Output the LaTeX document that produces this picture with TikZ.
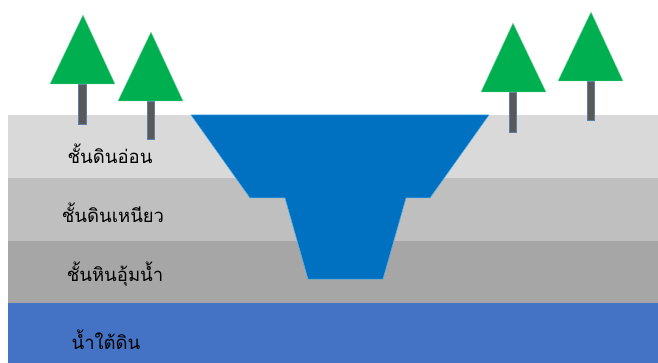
\documentclass[tikz,border=0pt]{standalone}
\usepackage{fontspec}
\newfontfamily\thaifont[Script=Thai]{Loma}
\definecolor{soilsoft}{HTML}{D9D9D9}
\definecolor{soilclay}{HTML}{BFBFBF}
\definecolor{aquifer}{HTML}{A6A6A6}
\definecolor{groundwater}{HTML}{4472C4}
\definecolor{river}{HTML}{0070C0}
\definecolor{riveredge}{HTML}{5BB0E8}
\definecolor{leaf}{HTML}{00B050}
\definecolor{leafedge}{HTML}{7FD8A6}
\definecolor{bark}{HTML}{595959}
\definecolor{barkedge}{HTML}{5B7FA8}
\begin{document}
\begin{tikzpicture}[x=1pt,y=-1pt,
  layer/.style={fill=#1,draw=none},
  label/.style={font=\thaifont\fontsize{18.5}{22}\selectfont,text=black,inner sep=0pt},
  trunk/.style={fill=bark,draw=barkedge,line width=0.5pt},
  crown/.style={fill=leaf,draw=leafedge,line width=0.4pt}]
\useasboundingbox (0,0) rectangle (658,363);
\fill[white] (0,0) rectangle (658,363);
% ground layers
\fill[layer=soilsoft] (8,115) rectangle (658,178);
\fill[layer=soilclay] (8,178) rectangle (658,241);
\fill[layer=aquifer] (8,241) rectangle (658,303);
\fill[layer=groundwater] (8,303) rectangle (658,363);
% river channel
\draw[fill=river,draw=riveredge,line width=0.5pt]
  (191,115) -- (250,198) -- (285,198) -- (308,279) -- (383,279)
  -- (406,198) -- (430,198) -- (489,115) -- cycle;
% trees: trunk then crown
\draw[trunk] (78,84) rectangle (86,124);
\draw[crown] (83,15) -- (115,84) -- (50,84) -- cycle;
\draw[trunk] (147,101) rectangle (154,139);
\draw[crown] (151,32) -- (183,101) -- (118,101) -- cycle;
\draw[trunk] (509,92) rectangle (516,132);
\draw[crown] (513,23) -- (546,92) -- (481,92) -- cycle;
\draw[trunk] (587,81) rectangle (594,120);
\draw[crown] (591,12) -- (623,81) -- (558,81) -- cycle;
% layer names
\node[label] (soft) at (110,154) {ชั้นดินอ่อน};
\node[label] (clay) at (113,213) {ชั้นดินเหนียว};
\node[label] (aqui) at (115,274) {ชั้นหินอุ้มน้ำ};
\node[label] (gw) at (106,340) {น้ำใต้ดิน};
\end{tikzpicture}
\end{document}
